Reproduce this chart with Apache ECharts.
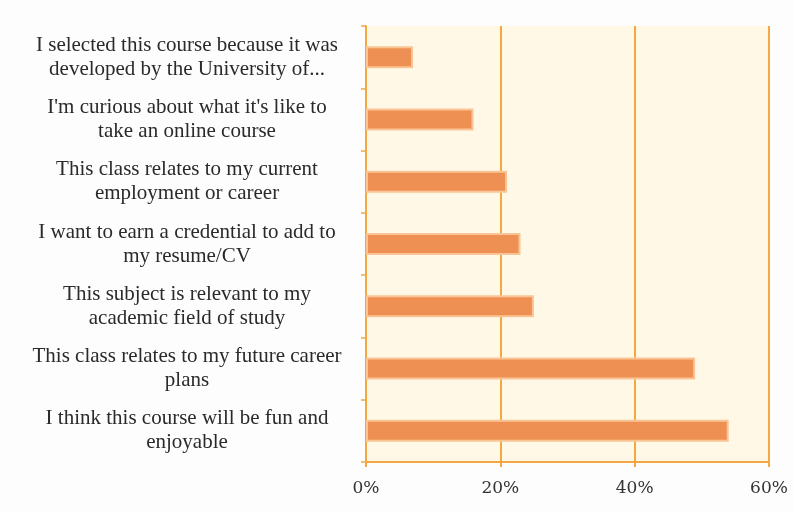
<!DOCTYPE html>
<html><head><meta charset="utf-8">
<script src="https://cdn.jsdelivr.net/npm/echarts@6/dist/echarts.min.js"></script>
<style>html,body{margin:0;padding:0;background:#fdfdfd;}#c{width:794px;height:513px;}</style>
</head><body><div id="c"></div>
<script>
const categories = [
  "I selected this course because it was\ndeveloped by the University of...",
  "I'm curious about what it's like to\ntake an online course",
  "This class relates to my current\nemployment or career",
  "I want to earn a credential to add to\nmy resume/CV",
  "This subject is relevant to my\nacademic field of study",
  "This class relates to my future career\nplans",
  "I think this course will be fun and\nenjoyable"
];
const values = [7, 16, 21, 23, 25, 49, 54];
const xTicks = [0, 20, 40, 60];

const chart = echarts.init(document.getElementById('c'));
chart.setOption({
  backgroundColor: '#fdfdfd',
  grid: { left: 366, right: 25, top: 26, bottom: 51, show: true, backgroundColor: '#fff8e6', borderWidth: 0 },
  xAxis: {
    type: 'value', min: xTicks[0], max: xTicks[xTicks.length-1], interval: 20,
    axisLine: { show: true, lineStyle: { color: '#f5a742', width: 2 } },
    axisTick: { show: true, length: 5, lineStyle: { color: '#f5a742', width: 2 } },
    splitLine: { show: true, lineStyle: { color: '#f5a742', width: 2 } },
    axisLabel: { formatter: v => v + '%', fontFamily: 'DejaVu Serif', fontSize: 17, color: '#333', margin: 18 }
  },
  yAxis: {
    type: 'category', inverse: true, data: categories,
    axisLine: { show: true, lineStyle: { color: '#f5a742', width: 2 } },
    axisTick: { show: true, length: 5, lineStyle: { color: '#f5a742', width: 1.5 } },
    axisLabel: {
      margin: 14,
      formatter: v => '{a|' + v.split('\n').join('}\n{a|') + '}',
      rich: { a: { width: 330, align: 'center', fontFamily: 'Liberation Serif', fontSize: 21, color: '#2a2a2a', lineHeight: 24 } }
    }
  },
  series: [{
    type: 'bar', data: values, barWidth: 22,
    itemStyle: { color: '#ee9053', borderColor: '#f9c596', borderWidth: 2 }
  }]
});
</script></body></html>
